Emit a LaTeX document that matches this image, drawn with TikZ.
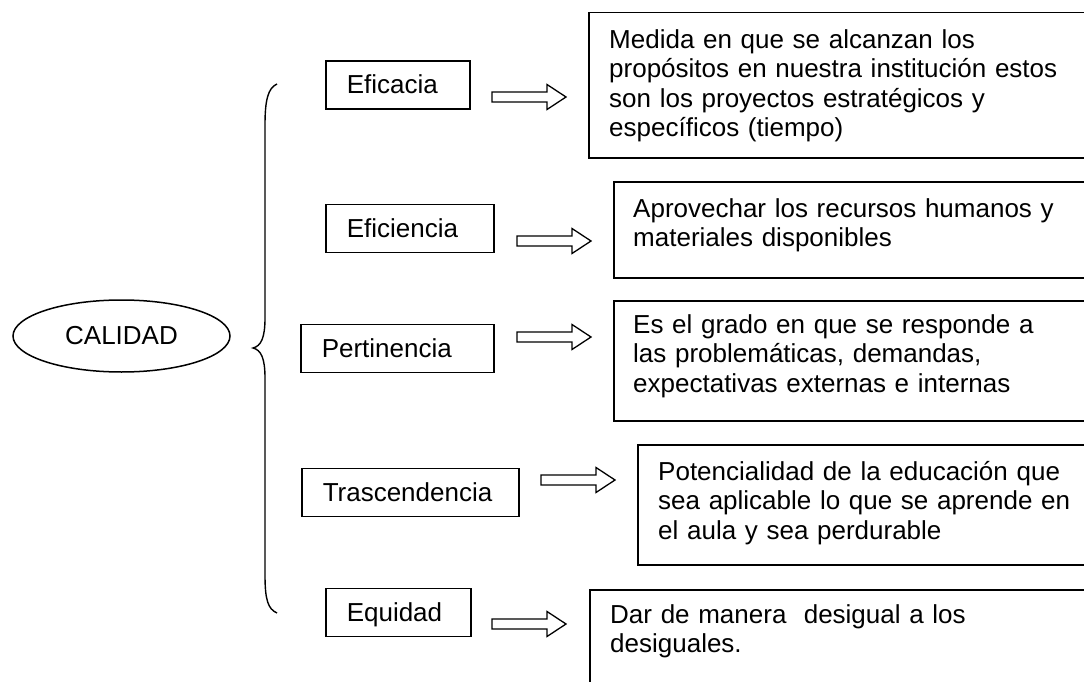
\documentclass[tikz,border=0pt]{standalone}
\usepackage{fontspec}
\setmainfont{Liberation Sans}
\usetikzlibrary{shapes.geometric,calc}
\begin{document}
\begin{tikzpicture}[x=1pt,y=-1pt,
  every node/.style={font=\fontsize{26}{29.5}\selectfont},
  ln/.style={line width=1.5pt,draw=black},
  shortbox/.style={ln,anchor=west,inner xsep=21pt,inner ysep=0pt,align=left,text height=21pt,text depth=3pt,minimum height=48pt},
  descbox/.style={ln,anchor=north west,minimum width=700pt,inner sep=0pt},
  desctext/.style={anchor=north west,inner sep=0pt,align=left,text width=460pt},
  calbox/.style={ln,ellipse,inner sep=0pt,minimum width=217pt,minimum height=72pt},
  blockarr/.pic={\draw[line width=1.3pt] (0,-5) -- (55,-5) -- (55,-12.5) -- (74,0) -- (55,12.5) -- (55,5) -- (0,5) -- cycle;}
]
\clip (0,0) rectangle (1084,682);
\fill[white] (0,0) rectangle (1084,682);

% central ellipse
\node[calbox] (cal) at (121.5,336) {CALIDAD};

% brace
\draw[line width=1.4pt] (277,84) .. controls (268,88) and (265,100) .. (265,125) -- (265,318)
  .. controls (265,338) and (261,346) .. (253,348)
  .. controls (261,350) and (265,358) .. (265,378) -- (265,575)
  .. controls (265,600) and (268,609) .. (277,613);

% short boxes
\node[shortbox,text width=102pt] (b1) at (325,85) {Eficacia};
\node[shortbox,text width=126pt] (b2) at (325,228.5) {Eficiencia};
\node[shortbox,text width=151pt] (b3) at (300,348.5) {Pertinencia};
\node[shortbox,text width=175pt] (b4) at (301,492.5) {Trascendencia};
\node[shortbox,text width=103pt] (b5) at (325,612.5) {Equidad};

% block arrows
\pic at (492,97) {blockarr};
\pic at (517,241) {blockarr};
\pic at (517,337) {blockarr};
\pic at (541,480) {blockarr};
\pic at (492,624) {blockarr};

% description boxes
\node[descbox,minimum height=145pt] (d1) at (588,12) {};
\node[descbox,minimum height=96pt] (d2) at (613,181) {};
\node[descbox,minimum height=120pt] (d3) at (613,300) {};
\node[descbox,minimum height=120pt] (d4) at (637,444) {};
\node[descbox,minimum height=140pt] (d5) at (589,589) {};

\node[desctext] (t1) at (609,28) {\rule{0pt}{20pt}Medida en que se alcanzan los\\propósitos en nuestra institución estos\\son los proyectos estratégicos y\\específicos (tiempo)};
\node[desctext] (t2) at (633,197) {\rule{0pt}{20pt}Aprovechar los recursos humanos y\\materiales disponibles};
\node[desctext] (t3) at (633,313) {\rule{0pt}{20pt}Es el grado en que se responde a\\las problemáticas, demandas,\\expectativas externas e internas};
\node[desctext] (t4) at (658,460) {\rule{0pt}{20pt}Potencialidad de la educación que\\sea aplicable lo que se aprende en\\el aula y sea perdurable};
\node[desctext] (t5) at (610,603) {\rule{0pt}{20pt}Dar de manera\ \ desigual a los\\desiguales.};
\end{tikzpicture}
\end{document}
